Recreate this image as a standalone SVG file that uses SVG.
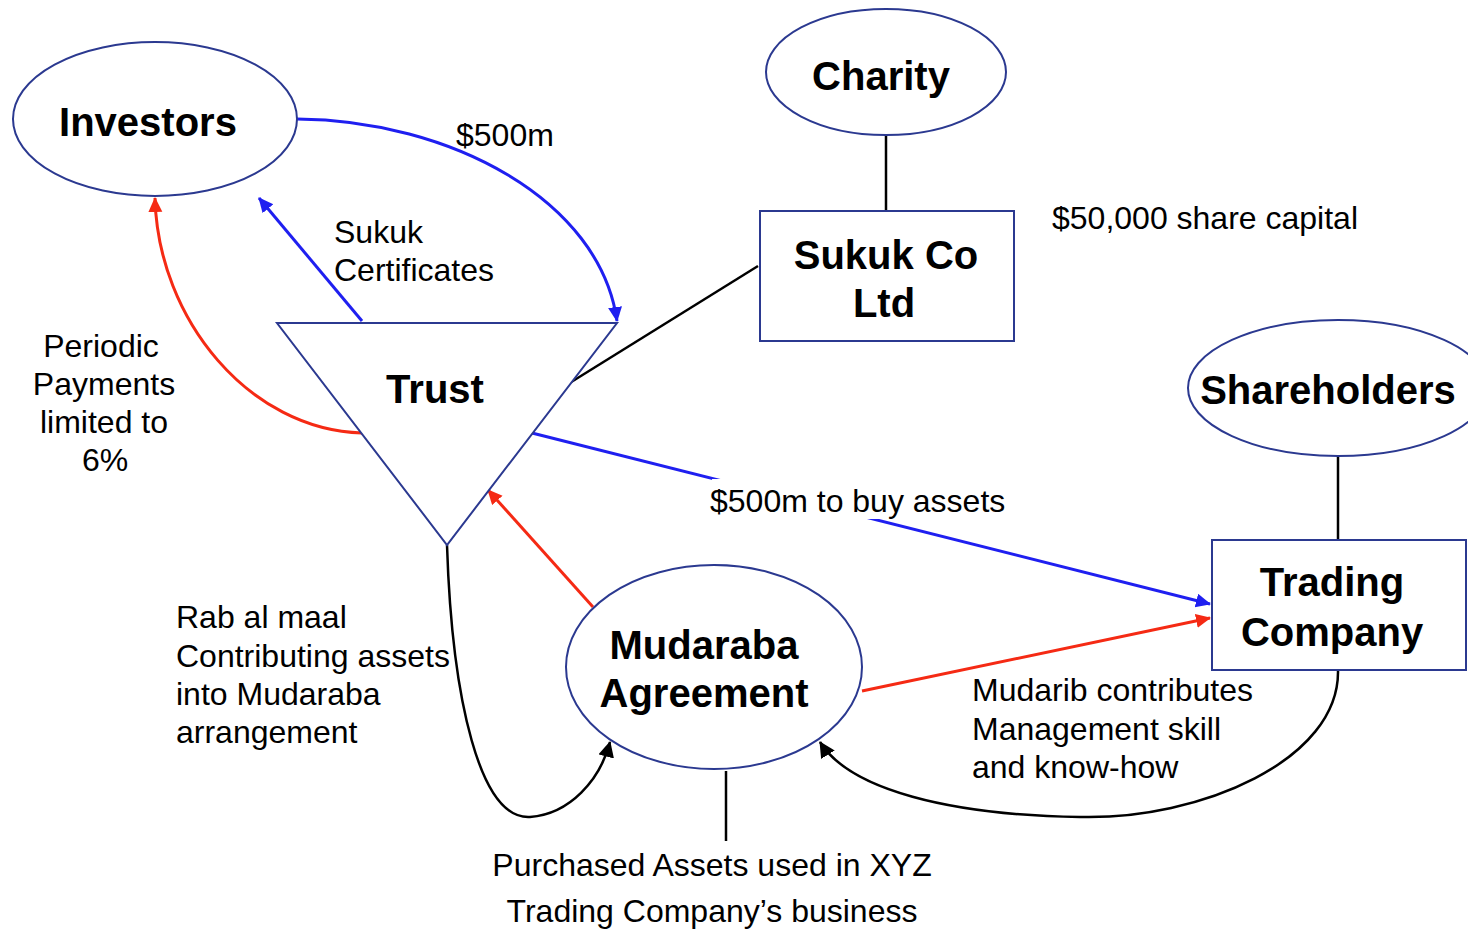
<svg xmlns="http://www.w3.org/2000/svg" width="1468" height="929" viewBox="0 0 1468 929">
<style>
.node{fill:#fff;stroke:#2B3990;stroke-width:2}
.b{font-family:"Liberation Sans",Arial,sans-serif;font-weight:bold;font-size:40px;fill:#000;text-anchor:middle}
.t{font-family:"Liberation Sans",Arial,sans-serif;font-size:32px;fill:#000}
.c{text-anchor:middle}
.blue{fill:none;stroke:#1F1FF0;stroke-width:3}
.red{fill:none;stroke:#F52A14;stroke-width:3}
.blk{fill:none;stroke:#000;stroke-width:2.5}
</style>
<defs>
<marker id="ab" markerUnits="userSpaceOnUse" markerWidth="16" markerHeight="16" refX="14" refY="7" orient="auto"><path d="M0,0 L15,7 L0,14 Z" fill="#1F1FF0"/></marker>
<marker id="ar" markerUnits="userSpaceOnUse" markerWidth="16" markerHeight="16" refX="14" refY="7" orient="auto"><path d="M0,0 L15,7 L0,14 Z" fill="#F52A14"/></marker>
<marker id="ak" markerUnits="userSpaceOnUse" markerWidth="18" markerHeight="18" refX="15" refY="8" orient="auto"><path d="M0,0 L16,8 L0,16 Z" fill="#000"/></marker>
</defs>
<rect width="1468" height="929" fill="#fff"/>
<g id="connectors">
<line class="blk" x1="886" y1="135" x2="886" y2="211"/>
<line class="blk" x1="758" y1="266" x2="568" y2="384"/>
<line class="blk" x1="1338" y1="456" x2="1338" y2="540"/>
<line class="blk" x1="726" y1="771" x2="726" y2="841"/>
<path class="blue" d="M297,119 C450,120 600,200 617,321" marker-end="url(#ab)"/>
<line class="blue" x1="362" y1="321" x2="259" y2="198" marker-end="url(#ab)"/>
<path class="red" d="M362,433 C250,430 158,320 155,198" marker-end="url(#ar)"/>
<line class="blue" x1="532" y1="433" x2="1210" y2="604" marker-end="url(#ab)"/>
<line class="red" x1="593" y1="607" x2="488" y2="490" marker-end="url(#ar)"/>
<line class="red" x1="862" y1="691" x2="1210" y2="618" marker-end="url(#ar)"/>
<path class="blk" d="M447,545 C452,700 480,820 530,817 C570,814 600,780 610,742" marker-end="url(#ak)"/>
<path class="blk" d="M1338,670 C1340,760 1200,820 1080,817 C950,815 850,790 820,742" marker-end="url(#ak)"/>
</g>
<g id="investors"><ellipse class="node" cx="155" cy="119" rx="142" ry="77"/><text class="b" x="148" y="136">Investors</text></g>
<g id="charity"><ellipse class="node" cx="886" cy="72" rx="120" ry="63"/><text class="b" x="881" y="90">Charity</text></g>
<g id="sukukco"><rect class="node" x="760" y="211" width="254" height="130"/><text class="b" x="886" y="269">Sukuk Co</text><text class="b" x="884" y="317">Ltd</text></g>
<g id="shareholders"><ellipse class="node" cx="1338" cy="388" rx="150" ry="68"/><text class="b" x="1328" y="404">Shareholders</text></g>
<g id="trading"><rect class="node" x="1212" y="540" width="254" height="130"/><text class="b" x="1332" y="596">Trading</text><text class="b" x="1332" y="646">Company</text></g>
<g id="trust"><polygon class="node" points="277,323 617,323 447,545"/><text class="b" x="435" y="403">Trust</text></g>
<g id="mudaraba"><ellipse class="node" cx="714" cy="667" rx="148" ry="102"/><text class="b" x="704" y="659">Mudaraba</text><text class="b" x="704" y="707">Agreement</text></g>
<g id="labels">
<text class="t" x="456" y="146">$500m</text>
<text class="t" x="334" y="243">Sukuk</text>
<text class="t" x="334" y="281">Certificates</text>
<text class="t c" x="101" y="357">Periodic</text>
<text class="t c" x="104" y="395">Payments</text>
<text class="t c" x="104" y="433">limited to</text>
<text class="t c" x="105" y="471">6%</text>
<text class="t" x="1052" y="229">$50,000 share capital</text>
<rect x="712" y="479" width="294" height="40" fill="#fff"/>
<text class="t" x="710" y="512">$500m to buy assets</text>
<text class="t" x="176" y="628">Rab al maal</text>
<text class="t" x="176" y="667">Contributing assets</text>
<text class="t" x="176" y="705">into Mudaraba</text>
<text class="t" x="176" y="743">arrangement</text>
<text class="t" x="972" y="701">Mudarib contributes</text>
<text class="t" x="972" y="740">Management skill</text>
<text class="t" x="972" y="778">and know-how</text>
<text class="t c" x="712" y="876">Purchased Assets used in XYZ</text>
<text class="t c" x="712" y="922">Trading Company’s business</text>
</g>
</svg>
